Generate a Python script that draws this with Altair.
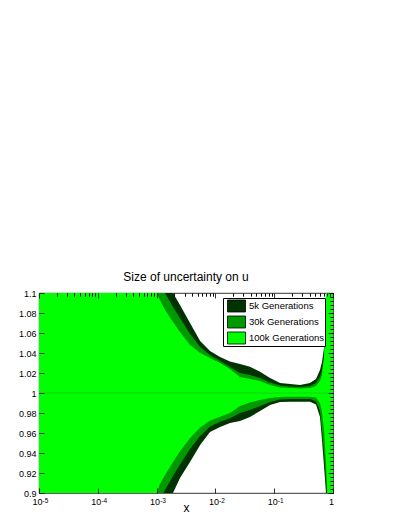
import altair as alt
import pandas as pd

# x positions (log axis)
x_vals = [1e-5, 1.09e-4, 7.7e-4, 1.0e-3, 1.14e-3, 1.39e-3, 1.9e-3, 2.5e-3, 3.7e-3,
          5.5e-3, 8.1e-3, 0.012, 0.0177, 0.0262, 0.0387, 0.0574, 0.085, 0.126,
          0.186, 0.275, 0.406, 0.514, 0.601, 0.650, 0.703, 0.760, 0.822, 1.0]

dark_hi = [1.5, 1.3, 1.16, 1.145, 1.136, 1.122, 1.100, 1.088, 1.070, 1.052, 1.042,
           1.036, 1.0315, 1.029, 1.0263, 1.0213, 1.015, 1.010, 1.009, 1.008, 1.010,
           1.014, 1.023, 1.031, 1.045, 1.063, 1.093, 1.143]
mid_hi = [1.47, 1.27, 1.125, 1.114, 1.108, 1.100, 1.086, 1.075, 1.059, 1.046, 1.038,
          1.032, 1.026, 1.020, 1.018, 1.015, 1.0105, 1.0075, 1.0065, 1.006, 1.007,
          1.010, 1.016, 1.023, 1.035, 1.053, 1.083, 1.133]
light_hi = [1.45, 1.25, 1.112, 1.100, 1.093, 1.083, 1.071, 1.061, 1.048, 1.040, 1.035,
            1.030, 1.024, 1.016, 1.014, 1.012, 1.008, 1.0055, 1.005, 1.0045, 1.005,
            1.007, 1.012, 1.018, 1.036, 1.10, 1.15, 1.2]

dark_lo = [0.55, 0.75, 0.85, 0.862, 0.870, 0.883, 0.900, 0.915, 0.931, 0.948, 0.961,
           0.966, 0.970, 0.972, 0.976, 0.982, 0.988, 0.991, 0.9913, 0.9913, 0.9913,
           0.9885, 0.976, 0.953, 0.927, 0.900, 0.873, 0.833]
mid_lo = [0.57, 0.77, 0.87, 0.887, 0.893, 0.903, 0.917, 0.9286, 0.944, 0.957, 0.9665,
          0.9713, 0.9747, 0.980, 0.983, 0.987, 0.991, 0.9935, 0.994, 0.994, 0.994,
          0.9915, 0.982, 0.962, 0.940, 0.915, 0.890, 0.845]
light_lo = [0.59, 0.79, 0.89, 0.900, 0.909, 0.918, 0.931, 0.9417, 0.955, 0.9655, 0.9725,
            0.9763, 0.980, 0.987, 0.9905, 0.993, 0.995, 0.996, 0.9963, 0.9963, 0.9963,
            0.9955, 0.990, 0.981, 0.963, 0.93, 0.88, 0.85]

bands = ["5k Generations", "30k Generations", "100k Generations"]
colors = ["#003300", "#009900", "#00ff00"]

x_major = [1e-5, 1e-4, 1e-3, 1e-2, 1e-1, 1.0]
x_minor = [k * 10.0 ** e for e in range(-5, 0) for k in range(2, 10)]
y_major = [0.9, 0.92, 0.94, 0.96, 0.98, 1.0, 1.02, 1.04, 1.06, 1.08, 1.1]
y_minor = [round(0.9 + 0.004 * i, 3) for i in range(51)]

rows = []
for name, lo, hi in zip(bands, [dark_lo, mid_lo, light_lo], [dark_hi, mid_hi, light_hi]):
    for xv, l, h in zip(x_vals, lo, hi):
        rows.append({"x": xv, "lo": l, "hi": h, "band": name})
df = pd.DataFrame(rows)
df_line = pd.DataFrame({"x0": [1e-5], "x1": [1.0], "y": [1.0]})

FONT = "Liberation Sans"
xscale = alt.Scale(type="log", domain=[1e-5, 1.0], nice=False)
yscale = alt.Scale(domain=[0.9, 1.1], nice=False, zero=False)

common = dict(domain=False, grid=False, tickColor="black", tickWidth=0.8,
              labelFont=FONT, labelColor="black", labelFlush=False,
              labelOverlap=False, zindex=1)

ax_bottom = alt.Axis(values=x_major, tickSize=5, offset=-5, labelFontSize=9,
                     labelPadding=4, labelOffset=-2,
                     labelExpr="datum.value >= 0.999 ? '1' : '10'",
                     title="x", titleFont=FONT, titleFontSize=12, titleFontWeight="normal",
                     titleColor="black", titleBaseline="alphabetic", titleY=23, **common)
ax_bottom_exp = alt.Axis(values=x_major, ticks=False, labelFontSize=6.5, labelPadding=4,
                         labelOffset=6,
                         labelExpr="datum.value >= 0.999 ? '' : '-' + (-round(log(datum.value)/LN10))",
                         title=None, **common)
ax_bottom_minor = alt.Axis(values=x_minor, tickSize=3, offset=-3, labels=False, title=None, **common)
ax_top = alt.Axis(orient="top", values=x_major, tickSize=5, offset=-5, labels=False, title=None, **common)
ax_top_minor = alt.Axis(orient="top", values=x_minor, tickSize=3, offset=-3, labels=False, title=None, **common)

ax_left = alt.Axis(values=y_major, tickSize=5, offset=-5, labelFontSize=9, labelPadding=3,
                   format=".3~g", title=None, **common)
ax_left_minor = alt.Axis(values=y_minor, tickSize=3, offset=-3, labels=False, title=None, **common)
ax_right = alt.Axis(orient="right", values=y_major, tickSize=5, offset=-5, labels=False, title=None, **common)
ax_right_minor = alt.Axis(orient="right", values=y_minor, tickSize=3, offset=-3, labels=False, title=None, **common)

legend = alt.Legend(title=None, orient="none", legendX=184, legendY=5,
                    fillColor="white", strokeColor="black", padding=1,
                    symbolType="M-1,-0.667H1V0.667H-1Z", symbolSize=324,
                    symbolStrokeColor="black", symbolStrokeWidth=0.8, symbolOpacity=1,
                    symbolOffset=3, labelFont=FONT, labelFontSize=9.5, labelColor="black",
                    labelOffset=3, rowPadding=2, clipHeight=14)
color = alt.Color("band:N", scale=alt.Scale(domain=bands, range=colors), legend=legend)

base = alt.Chart(df)


def band_layer(name, xax, yax):
    return base.transform_filter(alt.datum.band == name).mark_area(clip=True, opacity=1).encode(
        x=alt.X("x:Q", scale=xscale, axis=xax),
        y=alt.Y("lo:Q", scale=yscale, axis=yax),
        y2="hi:Q",
        color=color,
    )


l1 = band_layer(bands[0], ax_bottom, ax_left)
l2 = band_layer(bands[1], ax_bottom_minor, ax_left_minor)
l3 = band_layer(bands[2], ax_top, ax_right)
l4 = alt.Chart(df_line).mark_rule(color="#1cc81c", strokeWidth=0.8).encode(
    x=alt.X("x0:Q", scale=xscale, axis=ax_top_minor),
    x2="x1:Q",
    y=alt.Y("y:Q", scale=yscale, axis=ax_right_minor),
)
l5 = alt.Chart(df_line).mark_point(opacity=0).encode(
    x=alt.X("x0:Q", scale=xscale, axis=ax_bottom_exp),
    y=alt.Y("y:Q", scale=yscale, axis=None),
)

chart = alt.layer(l1, l2, l3, l4, l5).resolve_axis(x="independent", y="independent").properties(
    width=294, height=200,
    padding={"left": 31, "top": 285, "right": 60, "bottom": 20},
    autosize="none",
    title=alt.TitleParams("Size of uncertainty on u", font=FONT, fontSize=12,
                          fontWeight="normal", color="black", anchor="middle",
                          baseline="alphabetic", offset=-4),
).configure_view(stroke="black", strokeWidth=0.8)

chart.save("out.html", embed_options={"renderer": "svg", "actions": False})
